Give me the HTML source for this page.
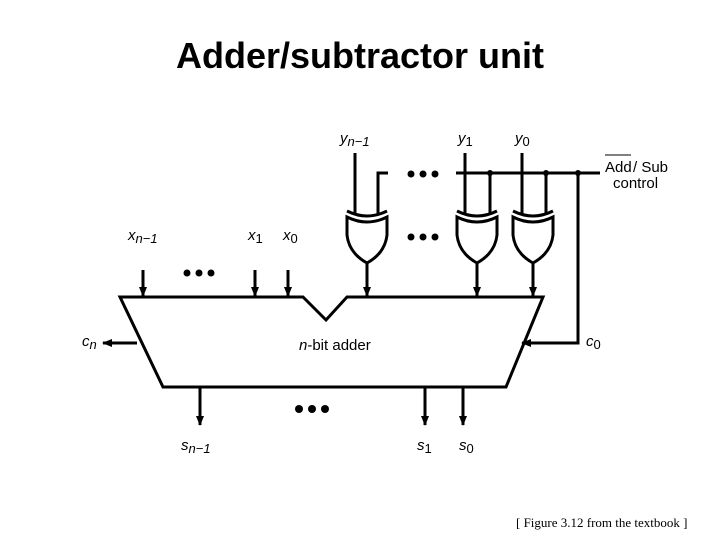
<!DOCTYPE html>
<html><head><style>
body{margin:0;background:#fff;}
svg{display:block;}
text{font-family:"Liberation Sans",sans-serif;}
</style></head><body>
<svg width="720" height="540" viewBox="0 0 720 540" xmlns="http://www.w3.org/2000/svg">
<defs>
<marker id="a" markerWidth="10" markerHeight="10" refX="9" refY="5" orient="auto" markerUnits="userSpaceOnUse">
<path d="M0,1 L10,5 L0,9 Z" fill="#000"/></marker>
</defs>
<text x="360" y="68" font-size="36" font-weight="bold" text-anchor="middle">Adder/subtractor unit</text>
<g stroke="#000" stroke-width="3" fill="none">
<path d="M120,297 L303,297 L326,320 L347,297 L543,297 L506,387 L163,387 Z" stroke-linejoin="miter"/>
<line x1="143" y1="270" x2="143" y2="296" marker-end="url(#a)"/>
<line x1="255" y1="270" x2="255" y2="296" marker-end="url(#a)"/>
<line x1="288" y1="270" x2="288" y2="296" marker-end="url(#a)"/>
<line x1="367" y1="263" x2="367" y2="296" marker-end="url(#a)"/>
<line x1="477" y1="263" x2="477" y2="296" marker-end="url(#a)"/>
<line x1="533" y1="263" x2="533" y2="296" marker-end="url(#a)"/>
<line x1="355" y1="153" x2="355" y2="214"/>
<line x1="465" y1="153" x2="465" y2="214"/>
<line x1="522" y1="153" x2="522" y2="214"/>
<line x1="456" y1="173" x2="600" y2="173"/>
<polyline points="388,173 378,173 378,214"/>
<line x1="490" y1="173" x2="490" y2="214"/>
<line x1="546" y1="173" x2="546" y2="214"/>
<polyline points="578,173 578,343 522,343" marker-end="url(#a)"/>
<line x1="137" y1="343" x2="103" y2="343" marker-end="url(#a)"/>
<line x1="200" y1="387" x2="200" y2="425" marker-end="url(#a)"/>
<line x1="425" y1="387" x2="425" y2="425" marker-end="url(#a)"/>
<line x1="463" y1="387" x2="463" y2="425" marker-end="url(#a)"/>
<path d="M347,217 Q367,227 387,217 L387,235 Q385,253 367,263 Q349,253 347,235 Z"/>
<path d="M347,211 Q367,221 387,211"/>
<path d="M457,217 Q477,227 497,217 L497,235 Q495,253 477,263 Q459,253 457,235 Z"/>
<path d="M457,211 Q477,221 497,211"/>
<path d="M513,217 Q533,227 553,217 L553,235 Q551,253 533,263 Q515,253 513,235 Z"/>
<path d="M513,211 Q533,221 553,211"/>
</g>
<g fill="#000">
<circle cx="490" cy="173" r="3"/><circle cx="546" cy="173" r="3"/><circle cx="578" cy="173" r="3"/>
<circle cx="411" cy="174" r="3.5"/><circle cx="423" cy="174" r="3.5"/><circle cx="435" cy="174" r="3.5"/>
<circle cx="411" cy="237" r="3.5"/><circle cx="423" cy="237" r="3.5"/><circle cx="435" cy="237" r="3.5"/>
<circle cx="187" cy="273" r="3.5"/><circle cx="199" cy="273" r="3.5"/><circle cx="211" cy="273" r="3.5"/>
<circle cx="299" cy="409" r="4"/><circle cx="312" cy="409" r="4"/><circle cx="325" cy="409" r="4"/>
</g>
<g font-size="15">
<text x="340" y="143" font-style="italic">y<tspan font-size="13" dy="3">n−1</tspan></text>
<text x="458" y="143" font-style="italic">y<tspan font-size="13" dy="3" font-style="normal">1</tspan></text>
<text x="515" y="143" font-style="italic">y<tspan font-size="13" dy="3" font-style="normal">0</tspan></text>
<text x="605" y="172">Add</text>
<line x1="605" y1="155" x2="631" y2="155" stroke="#000" stroke-width="1"/>
<text x="633" y="172">/ Sub</text>
<text x="613" y="188">control</text>
<text x="128" y="240" font-style="italic">x<tspan font-size="13" dy="3">n−1</tspan></text>
<text x="248" y="240" font-style="italic">x<tspan font-size="13" dy="3" font-style="normal">1</tspan></text>
<text x="283" y="240" font-style="italic">x<tspan font-size="13" dy="3" font-style="normal">0</tspan></text>
<text x="82" y="346" font-style="italic">c<tspan font-size="13" dy="3">n</tspan></text>
<text x="586" y="346" font-style="italic">c<tspan font-size="13" dy="3" font-style="normal">0</tspan></text>
<text x="299" y="350"><tspan font-style="italic">n</tspan>-bit adder</text>
<text x="181" y="450" font-style="italic">s<tspan font-size="13" dy="3">n−1</tspan></text>
<text x="417" y="450" font-style="italic">s<tspan font-size="13" dy="3" font-style="normal">1</tspan></text>
<text x="459" y="450" font-style="italic">s<tspan font-size="13" dy="3" font-style="normal">0</tspan></text>
</g>
<text x="516" y="527" font-size="13" style="font-family:'Liberation Serif',serif">[ Figure 3.12 from the textbook ]</text>
</svg>
</body></html>
